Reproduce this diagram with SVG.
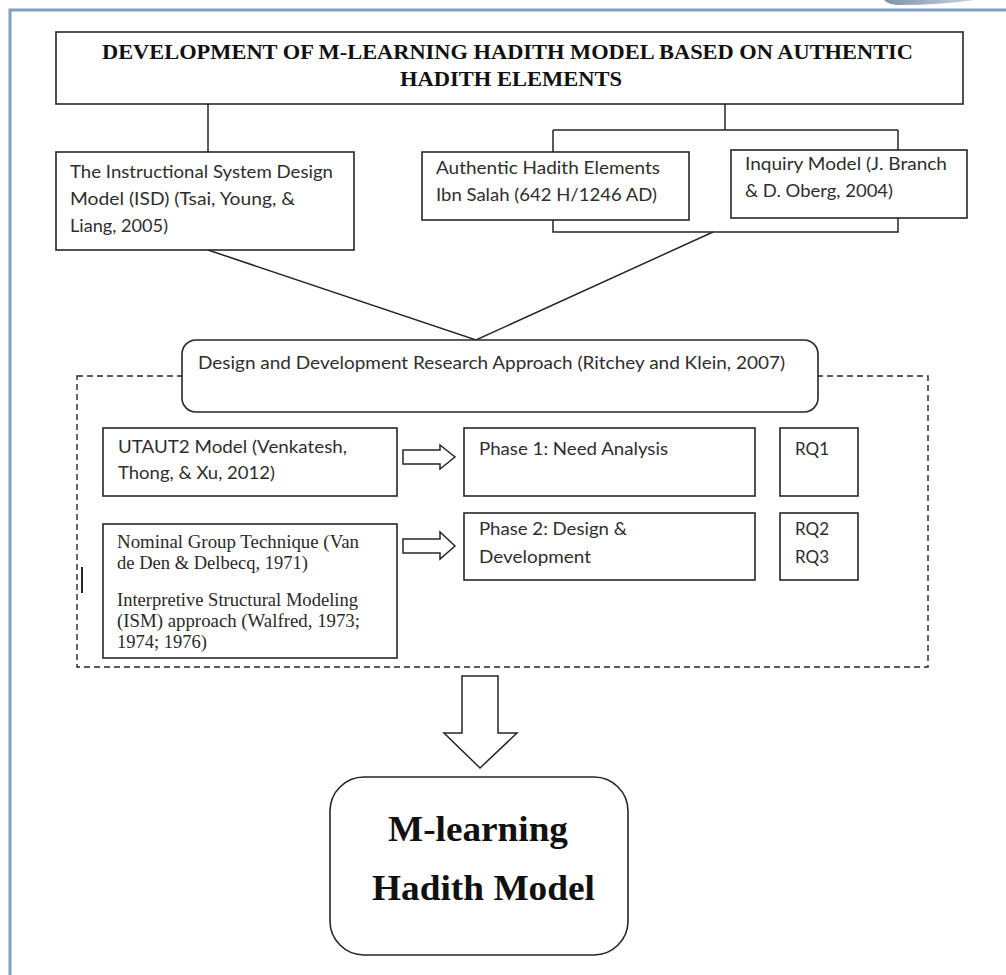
<svg xmlns="http://www.w3.org/2000/svg" width="1006" height="975" viewBox="0 0 1006 975">
<defs>
<linearGradient id="sw" x1="0" y1="0" x2="1" y2="0">
<stop offset="0" stop-color="#7f93ab"/>
<stop offset="1" stop-color="#c9d3df"/>
</linearGradient>
<style>
.box{fill:#fff;stroke:#262626;stroke-width:1.6}
.ln{fill:none;stroke:#262626;stroke-width:1.5}
.sans{font-family:Lato,"Open Sans","Liberation Sans",sans-serif;font-size:17px;fill:#2e2e2e}
.serif{font-family:"Liberation Serif","DejaVu Serif",serif;font-size:19px;fill:#2a2a2a}
.title{font-family:"Liberation Serif","DejaVu Serif",serif;font-size:21px;font-weight:bold;fill:#111}
.big{font-family:"Liberation Serif","DejaVu Serif",serif;font-size:35px;font-weight:bold;fill:#111}
.arrow{fill:#fff;stroke:#262626;stroke-width:1.5;stroke-linejoin:miter}
</style>
</defs>
<rect width="1006" height="975" fill="#fff"/>
<!-- page frame -->
<g id="frame">
<path d="M884,0 L975,0 Q940,5 900,5 Q888,5 884,0 Z" fill="url(#sw)"/>
<path d="M1006,10 L10,10 L10,975" fill="none" stroke="#7f9ec6" stroke-width="3"/>
</g>
<!-- connectors -->
<g id="connectors">
<path class="ln" d="M208,104 V152"/>
<path class="ln" d="M725,104 V130 M553,130 H898 M553,130 V152 M898,130 V150"/>
<path class="ln" d="M553,220 V232 H898 V218"/>
<path class="ln" d="M208,250 L476,340 L713,232"/>
<rect x="77" y="376" width="851" height="291" fill="none" stroke="#262626" stroke-width="1.4" stroke-dasharray="6,4"/>
<path d="M82,567 V593" stroke="#262626" stroke-width="2"/>
<path class="arrow" d="M403,450 H440 V445 L455,457 L440,469 V464 H403 Z"/>
<path class="arrow" d="M403,539 H440 V532 L455,546 L440,559 V553 H403 Z"/>
<path class="arrow" d="M462,676 H498 V733 H517 L480,768 L444,733 H462 Z"/>
</g>
<g id="title">
<rect class="box" x="56" y="32" width="907" height="72" stroke-width="2"/>
<text class="title" x="102" y="59" textLength="811" lengthAdjust="spacingAndGlyphs">DEVELOPMENT OF M-LEARNING HADITH MODEL BASED ON AUTHENTIC</text>
<text class="title" x="400" y="86" textLength="222" lengthAdjust="spacingAndGlyphs">HADITH ELEMENTS</text>
</g>
<g id="isd">
<rect class="box" x="56" y="152" width="298" height="98"/>
<text class="sans" x="70" y="178" textLength="263" lengthAdjust="spacingAndGlyphs">The Instructional System Design</text>
<text class="sans" x="70" y="205" textLength="225" lengthAdjust="spacingAndGlyphs">Model (ISD) (Tsai, Young, &amp;</text>
<text class="sans" x="70" y="232" textLength="98" lengthAdjust="spacingAndGlyphs">Liang, 2005)</text>
</g>
<g id="authentic">
<rect class="box" x="422" y="152" width="267" height="68"/>
<text class="sans" x="436" y="174" textLength="224" lengthAdjust="spacingAndGlyphs">Authentic Hadith Elements</text>
<text class="sans" x="436" y="201" textLength="221" lengthAdjust="spacingAndGlyphs">Ibn Salah (642 H/1246 AD)</text>
</g>
<g id="inquiry">
<rect class="box" x="731" y="150" width="236" height="68"/>
<text class="sans" x="745" y="170" textLength="202" lengthAdjust="spacingAndGlyphs">Inquiry Model (J. Branch</text>
<text class="sans" x="745" y="197" textLength="148" lengthAdjust="spacingAndGlyphs">&amp; D. Oberg, 2004)</text>
</g>
<g id="ddr">
<rect class="box" x="182" y="340" width="636" height="72" rx="14"/>
<text class="sans" x="198" y="369" textLength="587" lengthAdjust="spacingAndGlyphs">Design and Development Research Approach (Ritchey and Klein, 2007)</text>
</g>
<g id="utaut">
<rect class="box" x="103" y="428" width="294" height="68"/>
<text class="sans" x="118" y="453" textLength="229" lengthAdjust="spacingAndGlyphs">UTAUT2 Model (Venkatesh,</text>
<text class="sans" x="118" y="479" textLength="157" lengthAdjust="spacingAndGlyphs">Thong, &amp; Xu, 2012)</text>
</g>
<g id="ngt">
<rect class="box" x="103" y="524" width="294" height="134"/>
<text class="serif" x="117" y="548" textLength="242" lengthAdjust="spacingAndGlyphs">Nominal Group Technique (Van</text>
<text class="serif" x="117" y="569" textLength="191" lengthAdjust="spacingAndGlyphs">de Den &amp; Delbecq, 1971)</text>
<text class="serif" x="117" y="606" textLength="241" lengthAdjust="spacingAndGlyphs">Interpretive Structural Modeling</text>
<text class="serif" x="117" y="627" textLength="243" lengthAdjust="spacingAndGlyphs">(ISM) approach (Walfred, 1973;</text>
<text class="serif" x="117" y="648" textLength="90" lengthAdjust="spacingAndGlyphs">1974; 1976)</text>
</g>
<g id="phase1">
<rect class="box" x="464" y="428" width="291" height="68"/>
<text class="sans" x="479" y="455" textLength="189" lengthAdjust="spacingAndGlyphs">Phase 1: Need Analysis</text>
</g>
<g id="rq1">
<rect class="box" x="780" y="428" width="78" height="68"/>
<text class="sans" x="795" y="455" textLength="34" lengthAdjust="spacingAndGlyphs">RQ1</text>
</g>
<g id="phase2">
<rect class="box" x="464" y="513" width="291" height="67"/>
<text class="sans" x="479" y="535" textLength="148" lengthAdjust="spacingAndGlyphs">Phase 2: Design &amp;</text>
<text class="sans" x="479" y="563" textLength="112" lengthAdjust="spacingAndGlyphs">Development</text>
</g>
<g id="rq23">
<rect class="box" x="780" y="513" width="78" height="67"/>
<text class="sans" x="795" y="535" textLength="34" lengthAdjust="spacingAndGlyphs">RQ2</text>
<text class="sans" x="795" y="563" textLength="34" lengthAdjust="spacingAndGlyphs">RQ3</text>
</g>
<g id="final">
<rect class="box" x="330" y="777" width="298" height="178" rx="34"/>
<text class="big" x="388" y="841" textLength="180" lengthAdjust="spacingAndGlyphs">M-learning</text>
<text class="big" x="372" y="900" textLength="223" lengthAdjust="spacingAndGlyphs">Hadith Model</text>
</g>
</svg>
